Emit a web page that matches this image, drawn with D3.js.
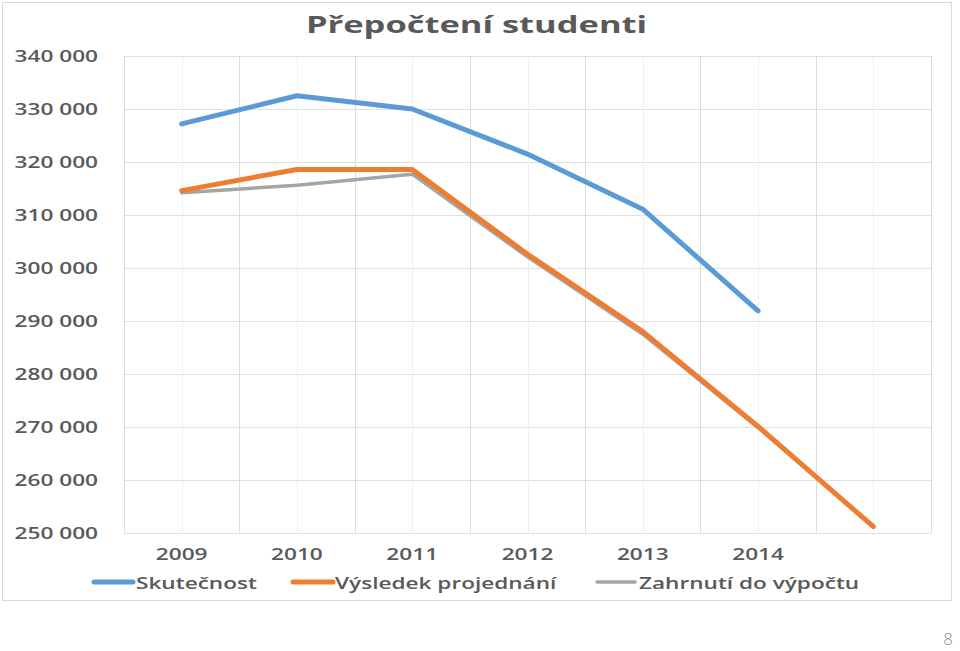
<!DOCTYPE html>
<html>
<head>
<meta charset="utf-8">
<script src="https://cdn.jsdelivr.net/npm/d3@7"></script>
<style>
  html, body { margin: 0; padding: 0; background: #ffffff; }
  svg { display: block; }
  text { font-family: "Open Sans", "DejaVu Sans", sans-serif; }
</style>
</head>
<body>
<svg id="chart" width="960" height="651"></svg>
<script>
// ---- data ----
const title = "Přepočtení studenti";
const categories = ["2009", "2010", "2011", "2012", "2013", "2014", ""];
const yTicks = [250000, 260000, 270000, 280000, 290000, 300000, 310000, 320000, 330000, 340000];
const seriesNames = ["Skutečnost", "Výsledek projednání", "Zahrnutí do výpočtu"];
const skutecnost = [327200, 332500, 330000, 321500, 311100, 291900];
const vysledek = [314600, 318600, 318600, 302600, 288000, 270100, 251200];
const zahrnuti = [314200, 315600, 317700, 302100, 287500, 269900];
const pageNumber = "8";

// ---- layout / style ----
const W = 960, H = 651;
const plot = { left: 124, right: 931, top: 56, bottom: 533 };
const colors = ["#5b9bd5", "#ed7d31", "#a5a5a5"];
const widths = [5, 5, 3.5];
const textColor = "#595959";
const stretch = 1.46;

const svg = d3.select("#chart");
svg.append("rect").attr("width", W).attr("height", H).attr("fill", "#fff");
svg.append("rect").attr("x", 2.5).attr("y", 2.5).attr("width", 949).attr("height", 598)
  .attr("fill", "none").attr("stroke", "#d9d9d9").attr("stroke-width", 1);

const x = d3.scaleBand().domain(categories).range([plot.left, plot.right]).padding(0);
const y = d3.scaleLinear().domain([250000, 340000]).range([plot.bottom, plot.top]);
const cx = c => x(c) + x.bandwidth() / 2;

// grid: horizontal
const grid = svg.append("g");
grid.selectAll("line.h").data(yTicks).join("line")
  .attr("x1", plot.left).attr("x2", plot.right)
  .attr("y1", d => Math.round(y(d)) + 0.5).attr("y2", d => Math.round(y(d)) + 0.5)
  .attr("stroke", "#e0e0e0").attr("stroke-width", 1);
// minor vertical at category centres
grid.selectAll("line.vmin").data(categories).join("line")
  .attr("x1", d => Math.round(cx(d)) + 0.5).attr("x2", d => Math.round(cx(d)) + 0.5)
  .attr("y1", plot.top).attr("y2", plot.bottom)
  .attr("stroke", "#efefef").attr("stroke-width", 1);
// major vertical at category boundaries
const bounds = categories.map(c => x(c)).concat([plot.right]);
grid.selectAll("line.vmaj").data(bounds).join("line")
  .attr("x1", d => Math.round(d) + 0.5).attr("x2", d => Math.round(d) + 0.5)
  .attr("y1", plot.top).attr("y2", plot.bottom)
  .attr("stroke", "#dcdcdc").attr("stroke-width", 1);

// y axis labels
const fmt = d3.formatLocale({ decimal: ",", thousands: " ", grouping: [3], currency: ["", ""] }).format(",");
const yAxis = svg.append("g").attr("transform", `translate(${plot.left},0)`)
  .call(d3.axisLeft(y).tickValues(yTicks).tickFormat(fmt).tickSize(0));
yAxis.select(".domain").remove();
yAxis.selectAll("text")
  .attr("x", 0).attr("dy", "0.36em")
  .attr("transform", `translate(-26,0) scale(${stretch},1)`)
  .attr("fill", textColor).attr("font-size", 15.5).attr("font-weight", 600)
  .attr("text-anchor", "end");

// x axis labels
const xAxis = svg.append("g").attr("transform", `translate(0,${plot.bottom})`)
  .call(d3.axisBottom(x).tickSize(0));
xAxis.select(".domain").remove();
xAxis.selectAll("text")
  .attr("y", 0).attr("dy", 0)
  .attr("transform", `translate(0,27) scale(${stretch},1)`)
  .attr("fill", textColor).attr("font-size", 15.5).attr("font-weight", 600);
xAxis.selectAll(".tick").each(function(d) {
  d3.select(this).attr("transform", `translate(${cx(d)},0)`);
});

// lines
const line = d3.line().x(d => cx(d.c)).y(d => y(d.v));
const seriesData = [skutecnost, vysledek, zahrnuti].map(arr => arr.map((v, i) => ({ c: categories[i], v })));
const drawOrder = [2, 1, 0];
drawOrder.forEach(i => {
  svg.append("path").datum(seriesData[i])
    .attr("d", line)
    .attr("fill", "none").attr("stroke", colors[i]).attr("stroke-width", widths[i])
    .attr("stroke-linecap", "round").attr("stroke-linejoin", "round");
});

// title
svg.append("text")
  .attr("transform", `translate(476.5,33) scale(1.5,1)`)
  .attr("text-anchor", "middle")
  .attr("fill", textColor).attr("font-size", 23).attr("font-weight", 700)
  .text(title);

// legend
const legendItems = [
  { sx: 94, ex: 133, tx: 136 },
  { sx: 293, ex: 333, tx: 335 },
  { sx: 597, ex: 635, tx: 639 }
];
const lg = svg.append("g");
seriesNames.forEach((name, i) => {
  const it = legendItems[i];
  lg.append("line").attr("x1", it.sx).attr("x2", it.ex).attr("y1", 582).attr("y2", 582)
    .attr("stroke", colors[i]).attr("stroke-width", widths[i]).attr("stroke-linecap", "round");
  lg.append("text")
    .attr("transform", `translate(${it.tx},589) scale(1.43,1)`)
    .attr("fill", textColor).attr("font-size", 15.8).attr("font-weight", 600)
    .text(name);
});

// page number
svg.append("text").attr("x", 953).attr("y", 645).attr("text-anchor", "end")
  .attr("fill", "#8c8c8c").attr("font-size", 17).attr("font-weight", 300)
  .text(pageNumber);
</script>
</body>
</html>
